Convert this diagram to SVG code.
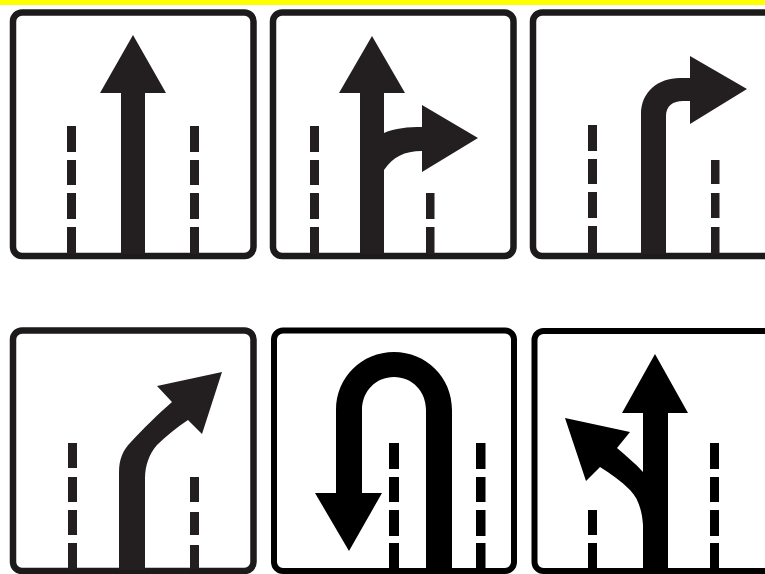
<svg xmlns="http://www.w3.org/2000/svg" width="765" height="574" viewBox="0 0 765 574">
<style>
.plate{fill:#fff;stroke:#1d1a1b;stroke-width:6.500}
.plate.k{stroke:#000;stroke-width:6}
.ink{fill:#231f20}
.k2{fill:#000}
</style>
<rect width="765" height="574" fill="#fff"/>
<rect id="band" width="765" height="5" fill="#ffff00"/>
<g id="sign-straight">
<rect class="plate" x="13" y="12.500" width="240.500" height="243.500" rx="9"/>
<path class="ink" d="M133 35L166 93H145V254H121V93H100Z"/>
<path class="ink" d="M67 126h9v26h-9zM67 160h9v25h-9zM67 193h9v26h-9zM67 227h9v27h-9zM190 126h9v26h-9zM190 160h9v25h-9zM190 193h9v26h-9zM190 227h9v27h-9z"/>
</g>
<g id="sign-straight-right">
<rect class="plate" x="273" y="12.500" width="240.500" height="243.500" rx="9"/>
<path class="ink" d="M372 36L405 93H384V133C395 128 408 127 422 127V105L478 138L422 172V151C404 151 393 157 384 170V254H360V93H339Z"/>
<path class="ink" d="M310 126h9v26h-9zM310 160h9v25h-9zM310 193h9v26h-9zM310 227h9v27h-9zM426 193h8.500v26h-8.500zM426 227h8.500v27h-8.500z"/>
</g>
<g id="sign-right">
<rect class="plate" x="533" y="12.500" width="260" height="243.500" rx="9"/>
<path class="ink" d="M690 56L747 89L690 124V101H683C673 101 666 106 666 116V254H641V114C641 92 658 78 680 78H690Z"/>
<path class="ink" d="M588 125h9v26h-9zM588 159h9v25h-9zM588 192h9v26h-9zM588 226h9v28h-9zM711 160h8.500v24h-8.500zM711 193h8.500v25h-8.500zM711 227h8.500v27h-8.500z"/>
</g>
<g id="sign-bear-right">
<rect class="plate" x="13" y="330.500" width="240.500" height="240.500" rx="9"/>
<path class="ink" d="M222 372L202 434L188 420C176 428 166 436 157 445C149 454 145 466 145 478V570H119V472C119 459 123 450 131 442C143 429 158 414 172 402L157 386Z"/>
<path class="ink" d="M68 443h9v25h-9zM68 477h9v25h-9zM68 510h9v25h-9zM68 543h9v26h-9zM190 477h9v25h-9zM190 512h9v23h-9zM190 545h9v24h-9z"/>
</g>
<g id="sign-u-turn">
<rect class="plate k" x="274" y="330.500" width="240" height="240.500" rx="9"/>
<path class="k2" d="M315 493H336V410C336 377 362 352 394 352C426 352 452 377 452 410V570H426V410C426 391 412 377 394 377C376 377 362 391 362 410V493H382L349 551Z"/>
<path class="k2" d="M389 443h10v26h-10zM389 477h10v25h-10zM389 510h10v26h-10zM389 543h10v27h-10zM476 443h9.500v26h-9.500zM476 477h9.500v25h-9.500zM476 510h9.500v26h-9.500zM476 543h9.500v27h-9.500z"/>
</g>
<g id="sign-straight-left">
<rect class="plate k" x="534.500" y="331" width="260" height="240" rx="9"/>
<path class="k2" d="M655 354L688 413H668V570H643V525C642 510 638 498 630 490C621 481 611 474 600 467L586 481L565 418L630 432L617 448C626 456 635 463 643 472V413H622Z"/>
<path class="k2" d="M588 510h9v25h-9zM588 543h9v27h-9zM710 443h9v26h-9zM710 477h9v25h-9zM710 510h9v26h-9zM710 543h9v27h-9z"/>
</g>
</svg>
